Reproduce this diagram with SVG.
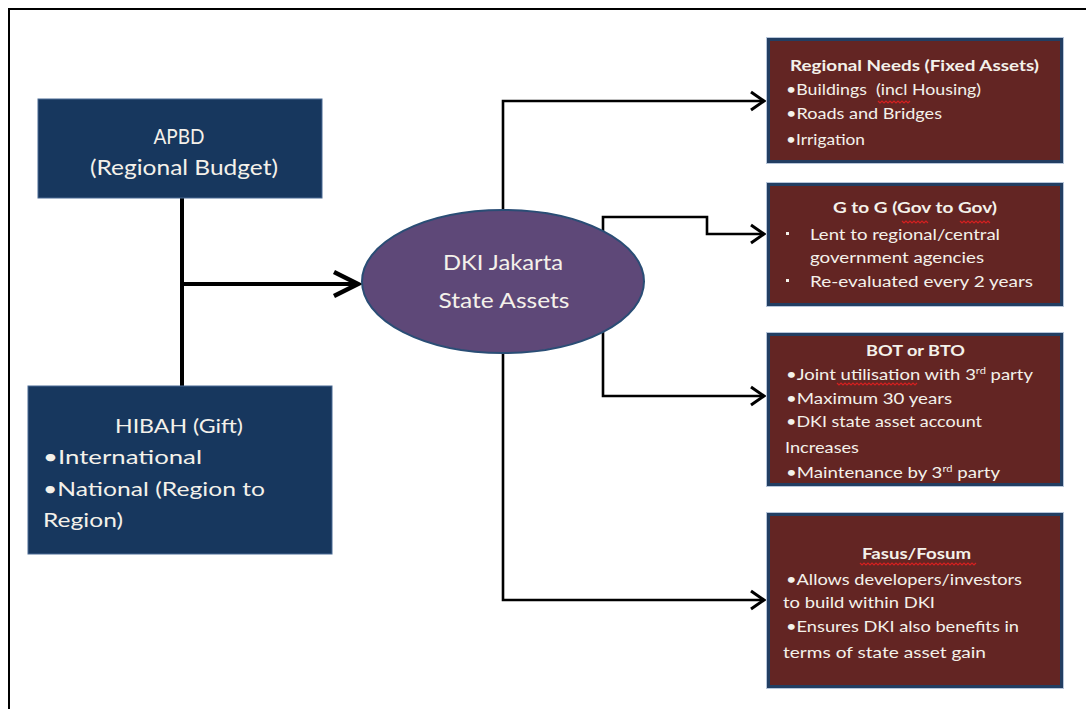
<svg xmlns="http://www.w3.org/2000/svg" width="1086" height="709" viewBox="0 0 1086 709">
  <defs>
    <style>
      .frame { stroke: #000; stroke-width: 2; fill: none; }
      .navy { fill: #17375e; stroke: #4a6a94; stroke-width: 1; }
      .maroon { fill: #632523; stroke: #223e62; stroke-width: 3; }
      .maroon-edge { fill: none; stroke: #b7c6da; stroke-width: 1; }
      .hub { fill: #5e4878; stroke: #2a4d75; stroke-width: 2; }
      .txt { font-family: Lato, "Open Sans", sans-serif; fill: #f4f1ea; }
      .lt { font-size: 19px; }
      .lt-big { font-size: 20.5px; }
      .hub-t { font-size: 21px; }
      .rt { font-size: 15px; }
      .title { font-weight: bold; }
      .mid { text-anchor: middle; }
      .feed { stroke: #000; stroke-width: 4; fill: none; }
      .branch { stroke: #000; stroke-width: 2.6; fill: none; }
      .squiggle { stroke: #d42020; stroke-width: 1.2; fill: none; }
    </style>
    <marker id="bigHead" viewBox="0 0 30 30" refX="26" refY="15" markerWidth="30" markerHeight="30" markerUnits="userSpaceOnUse" orient="auto">
      <path d="M2,3 L26,15 L2,27" fill="none" stroke="#000" stroke-width="4.5" stroke-linejoin="miter"/>
    </marker>
    <marker id="smallHead" viewBox="0 0 20 22" refX="16" refY="11" markerWidth="20" markerHeight="22" markerUnits="userSpaceOnUse" orient="auto">
      <path d="M3,2 L16,11 L3,20" fill="none" stroke="#000" stroke-width="3" stroke-linejoin="miter"/>
    </marker>
  </defs>

  <rect width="1086" height="709" fill="#fff"/>
  <!-- frame lines -->
  <path class="frame" d="M9,709 V9 H1086"/>

  <!-- connectors -->
  <g id="connectors">
    <path class="feed" d="M182,198 V386"/>
    <path class="feed" d="M182,284 H358" marker-end="url(#bigHead)"/>
    <path class="branch" d="M503,210 V101 H764" marker-end="url(#smallHead)"/>
    <path class="branch" d="M603,231 V217 H707 V234 H764" marker-end="url(#smallHead)"/>
    <path class="branch" d="M603,332 V396 H764" marker-end="url(#smallHead)"/>
    <path class="branch" d="M503,353 V600 H764" marker-end="url(#smallHead)"/>
  </g>

  <!-- regional budget source -->
  <g id="apbd">
    <rect class="navy" x="38" y="99" width="284" height="99"/>
    <text class="txt lt-big mid" x="179" y="144" textLength="51" lengthAdjust="spacingAndGlyphs">APBD</text>
    <text class="txt lt-big mid" x="184" y="175" textLength="188" lengthAdjust="spacingAndGlyphs">(Regional Budget)</text>
  </g>

  <!-- gift source -->
  <g id="hibah">
    <rect class="navy" x="28" y="386" width="304" height="168"/>
    <text class="txt lt mid" x="179" y="433" textLength="128" lengthAdjust="spacingAndGlyphs">HIBAH (Gift)</text>
    <text class="txt lt" x="43" y="464" textLength="159" lengthAdjust="spacingAndGlyphs">•International</text>
    <text class="txt lt" x="43" y="496" textLength="222" lengthAdjust="spacingAndGlyphs">•National (Region to</text>
    <text class="txt lt" x="43" y="527" textLength="80" lengthAdjust="spacingAndGlyphs">Region)</text>
  </g>

  <!-- central asset pool -->
  <g id="state-assets">
    <ellipse class="hub" cx="503" cy="281.5" rx="141" ry="71.5"/>
    <text class="txt hub-t mid" x="503" y="270" textLength="120" lengthAdjust="spacingAndGlyphs">DKI Jakarta</text>
    <text class="txt hub-t mid" x="504" y="308" textLength="131" lengthAdjust="spacingAndGlyphs">State Assets</text>
  </g>

  <g id="regional-needs">
    <rect class="maroon-edge" x="766.5" y="37.5" width="297" height="126"/>
    <rect class="maroon" x="768.5" y="39.5" width="293" height="122"/>
    <text class="txt rt title mid" x="914.5" y="71" textLength="249" lengthAdjust="spacingAndGlyphs">Regional Needs (Fixed Assets)</text>
    <text class="txt rt" x="786" y="95" textLength="195" lengthAdjust="spacingAndGlyphs" xml:space="preserve">•Buildings  (incl Housing)</text>
    <text class="txt rt" x="786" y="119" textLength="156" lengthAdjust="spacingAndGlyphs">•Roads and Bridges</text>
    <text class="txt rt" x="786" y="145" textLength="79" lengthAdjust="spacingAndGlyphs">•Irrigation</text>
    <path class="squiggle" d="M878,101 l2,2 l2,-2 l2,2 l2,-2 l2,2 l2,-2 l2,2 l2,-2 l2,2 l2,-2 l2,2 l2,-2 l2,2 l2,-2 l2,2 l2,-2"/>
  </g>

  <g id="gov-to-gov">
    <rect class="maroon-edge" x="766.5" y="182.5" width="297" height="124"/>
    <rect class="maroon" x="768.5" y="184.5" width="293" height="120"/>
    <text class="txt rt title mid" x="915" y="213" textLength="164" lengthAdjust="spacingAndGlyphs">G to G (Gov to Gov)</text>
    <rect x="786" y="232" width="3" height="3" fill="#f4f1ea"/>
    <text class="txt rt" x="810" y="240" textLength="190" lengthAdjust="spacingAndGlyphs">Lent to regional/central</text>
    <text class="txt rt" x="810" y="263" textLength="174" lengthAdjust="spacingAndGlyphs">government agencies</text>
    <rect x="786" y="279" width="3" height="3" fill="#f4f1ea"/>
    <text class="txt rt" x="810" y="287" textLength="223" lengthAdjust="spacingAndGlyphs">Re-evaluated every 2 years</text>
    <path class="squiggle" d="M902,221 l2,2 l2,-2 l2,2 l2,-2 l2,2 l2,-2 l2,2 l2,-2 l2,2 l2,-2 l2,2 l2,-2 l2,2"/>
    <path class="squiggle" d="M960,221 l2,2 l2,-2 l2,2 l2,-2 l2,2 l2,-2 l2,2 l2,-2 l2,2 l2,-2 l2,2 l2,-2 l2,2 l2,-2 l2,2"/>
  </g>

  <g id="bot-bto">
    <rect class="maroon-edge" x="766.5" y="332.5" width="297" height="154"/>
    <rect class="maroon" x="768.5" y="334.5" width="293" height="150"/>
    <text class="txt rt title mid" x="915.5" y="356" textLength="99" lengthAdjust="spacingAndGlyphs">BOT or BTO</text>
    <text class="txt rt" x="786" y="380" textLength="247" lengthAdjust="spacingAndGlyphs">•Joint utilisation  with 3<tspan font-size="9" dy="-6">rd</tspan><tspan dy="6"> party</tspan></text>
    <text class="txt rt" x="786" y="404" textLength="166" lengthAdjust="spacingAndGlyphs">•Maximum 30 years</text>
    <text class="txt rt" x="786" y="427" textLength="196" lengthAdjust="spacingAndGlyphs">•DKI state asset account</text>
    <text class="txt rt" x="785" y="453" textLength="74" lengthAdjust="spacingAndGlyphs">Increases</text>
    <text class="txt rt" x="786" y="478" textLength="214" lengthAdjust="spacingAndGlyphs">•Maintenance by 3<tspan font-size="9" dy="-6">rd</tspan><tspan dy="6"> party</tspan></text>
    <path class="squiggle" d="M837,383 l2,2 l2,-2 l2,2 l2,-2 l2,2 l2,-2 l2,2 l2,-2 l2,2 l2,-2 l2,2 l2,-2 l2,2 l2,-2 l2,2 l2,-2 l2,2 l2,-2 l2,2 l2,-2 l2,2 l2,-2 l2,2 l2,-2 l2,2 l2,-2 l2,2 l2,-2 l2,2 l2,-2 l2,2 l2,-2 l2,2 l2,-2 l2,2 l2,-2 l2,2 l2,-2 l2,2 l2,-2"/>
  </g>

  <g id="fasus-fosum">
    <rect class="maroon-edge" x="766.5" y="512.5" width="297" height="176"/>
    <rect class="maroon" x="768.5" y="514.5" width="293" height="172"/>
    <text class="txt rt title mid" x="916.5" y="559" textLength="109" lengthAdjust="spacingAndGlyphs">Fasus/Fosum</text>
    <text class="txt rt" x="786" y="585" textLength="236" lengthAdjust="spacingAndGlyphs">•Allows developers/investors</text>
    <text class="txt rt" x="783" y="608" textLength="152" lengthAdjust="spacingAndGlyphs">to build within DKI</text>
    <text class="txt rt" x="786" y="632" textLength="233" lengthAdjust="spacingAndGlyphs">•Ensures DKI also benefits in</text>
    <text class="txt rt" x="783" y="658" textLength="203" lengthAdjust="spacingAndGlyphs">terms of state asset gain</text>
    <path class="squiggle" d="M860,563 l2,2 l2,-2 l2,2 l2,-2 l2,2 l2,-2 l2,2 l2,-2 l2,2 l2,-2 l2,2 l2,-2 l2,2 l2,-2 l2,2 l2,-2 l2,2 l2,-2 l2,2 l2,-2 l2,2 l2,-2 l2,2 l2,-2 l2,2 l2,-2 l2,2 l2,-2 l2,2 l2,-2 l2,2 l2,-2 l2,2 l2,-2 l2,2 l2,-2 l2,2 l2,-2 l2,2 l2,-2 l2,2 l2,-2 l2,2 l2,-2 l2,2 l2,-2 l2,2 l2,-2 l2,2 l2,-2 l2,2 l2,-2 l2,2 l2,-2 l2,2 l2,-2 l2,2 l2,-2"/>
  </g>
</svg>
